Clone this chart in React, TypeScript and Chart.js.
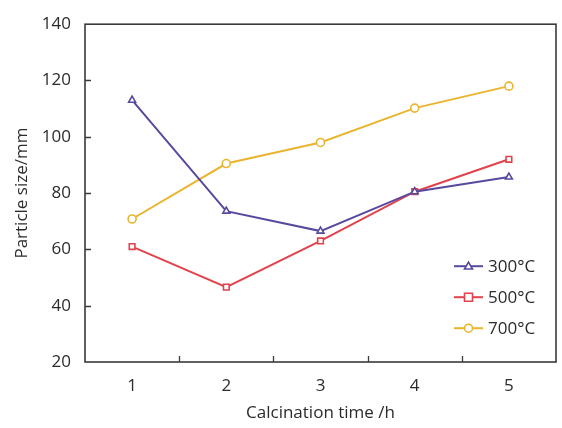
import React, { useEffect, useRef } from "react";
import { Chart, registerables } from "chart.js";

Chart.register(...registerables);

const categories = ["1", "2", "3", "4", "5"];
const series300 = [113, 73.6, 66.5, 80.5, 85.7];
const series500 = [61, 46.6, 63, 80.5, 92];
const series700 = [70.8, 90.5, 98, 110.2, 118];
const seriesLabels = ["300°C", "500°C", "700°C"];
const yTicks = [20, 40, 60, 80, 100, 120, 140];

const COLORS = ["#574a9e", "#e2424b", "#eab52e"];
const STYLES = ["triangle", "rect", "circle"];
const FONT = "'Open Sans', sans-serif";
const TEXT = "#2b2b2b";
const FS = 17;

const frameAndLegend = {
  id: "frameAndLegend",
  afterDatasetsDraw(chart: any) {
    const { ctx, chartArea, scales } = chart;
    const { left, right, top, bottom } = chartArea;
    ctx.save();
    ctx.strokeStyle = "#3a3a3a";
    ctx.lineWidth = 1.6;
    ctx.strokeRect(left, top, right - left, bottom - top);
    const y = scales.y;
    const tl = 6;
    ctx.beginPath();
    for (const v of yTicks) {
      if (v === yTicks[0] || v === yTicks[yTicks.length - 1]) continue;
      const py = Math.round(y.getPixelForValue(v)) + 0.5;
      ctx.moveTo(left, py);
      ctx.lineTo(left + tl, py);
    }
    const x = scales.x;
    for (let i = 0; i < categories.length - 1; i++) {
      const px = Math.round((x.getPixelForValue(i) + x.getPixelForValue(i + 1)) / 2) + 0.5;
      ctx.moveTo(px, bottom);
      ctx.lineTo(px, bottom - tl);
    }
    ctx.lineWidth = 1.3;
    ctx.stroke();

    // legend
    const lx0 = right - 102;
    const lx1 = right - 73;
    const ly0 = top + 242;
    const gap = 31;
    ctx.font = `${FS}px ${FONT}`;
    ctx.textBaseline = "middle";
    ctx.textAlign = "left";
    chart.data.datasets.forEach((ds: any, i: number) => {
      const ly = ly0 + i * gap;
      ctx.strokeStyle = ds.borderColor;
      ctx.lineWidth = 2;
      ctx.beginPath();
      ctx.moveTo(lx0, ly);
      ctx.lineTo(lx1, ly);
      ctx.stroke();
      const cx = (lx0 + lx1) / 2;
      ctx.fillStyle = "#ffffff";
      ctx.lineWidth = 1.6;
      ctx.beginPath();
      const r = 4;
      if (ds.pointStyle === "triangle") {
        ctx.moveTo(cx, ly - r);
        ctx.lineTo(cx + r, ly + r * 0.7);
        ctx.lineTo(cx - r, ly + r * 0.7);
        ctx.closePath();
      } else if (ds.pointStyle === "rect") {
        ctx.rect(cx - r, ly - r, 2 * r, 2 * r);
      } else {
        ctx.arc(cx, ly, r, 0, Math.PI * 2);
      }
      ctx.fill();
      ctx.stroke();
      ctx.fillStyle = TEXT;
      ctx.fillText(ds.label, lx1 + 5, ly + 1);
    });
    ctx.restore();
  },
};

export default function App() {
  const ref = useRef<HTMLCanvasElement | null>(null);
  useEffect(() => {
    if (!ref.current) return;
    const data = [series300, series500, series700];
    const chart = new Chart(ref.current, {
      type: "line",
      data: {
        labels: categories,
        datasets: data.map((d, i) => ({
          label: seriesLabels[i],
          data: d,
          borderColor: COLORS[i],
          backgroundColor: "#ffffff",
          pointBackgroundColor: "#ffffff",
          pointBorderColor: COLORS[i],
          pointBorderWidth: 1.6,
          pointRadius: 4,
          pointStyle: STYLES[i] as any,
          borderWidth: 2,
          tension: 0,
        })),
      },
      options: {
        responsive: false,
        animation: false,
        layout: { padding: { top: 19, right: 6, left: 12, bottom: 5 } },
        plugins: {
          legend: { display: false },
          tooltip: { enabled: false },
        },
        scales: {
          x: {
            type: "category",
            offset: true,
            grid: { display: false, drawTicks: false },
            border: { display: false },
            afterFit: (axis: any) => {
              axis.height = 61;
            },
            ticks: { color: TEXT, font: { family: FONT, size: FS }, padding: 14 },
            title: {
              display: true,
              text: "Calcination time /h",
              color: TEXT,
              font: { family: FONT, size: FS },
              padding: { top: 4, bottom: 0 },
            },
          },
          y: {
            min: 20,
            max: 140,
            grid: { display: false, drawTicks: false },
            border: { display: false },
            afterFit: (axis: any) => {
              axis.width = 73;
            },
            afterBuildTicks: (axis: any) => {
              axis.ticks = yTicks.map((v) => ({ value: v }));
            },
            ticks: { color: TEXT, font: { family: FONT, size: FS }, padding: 14 },
            title: {
              display: true,
              text: "Particle size/mm",
              color: TEXT,
              font: { family: FONT, size: FS },
              padding: { top: 0, bottom: 10 },
            },
          },
        },
      },
      plugins: [frameAndLegend],
    });
    return () => chart.destroy();
  }, []);
  return (
    <div style={{ position: "fixed", left: 0, top: 0, width: 562, height: 428, background: "#fff" }}>
      <canvas ref={ref} width={562} height={428} style={{ display: "block" }} />
    </div>
  );
}
